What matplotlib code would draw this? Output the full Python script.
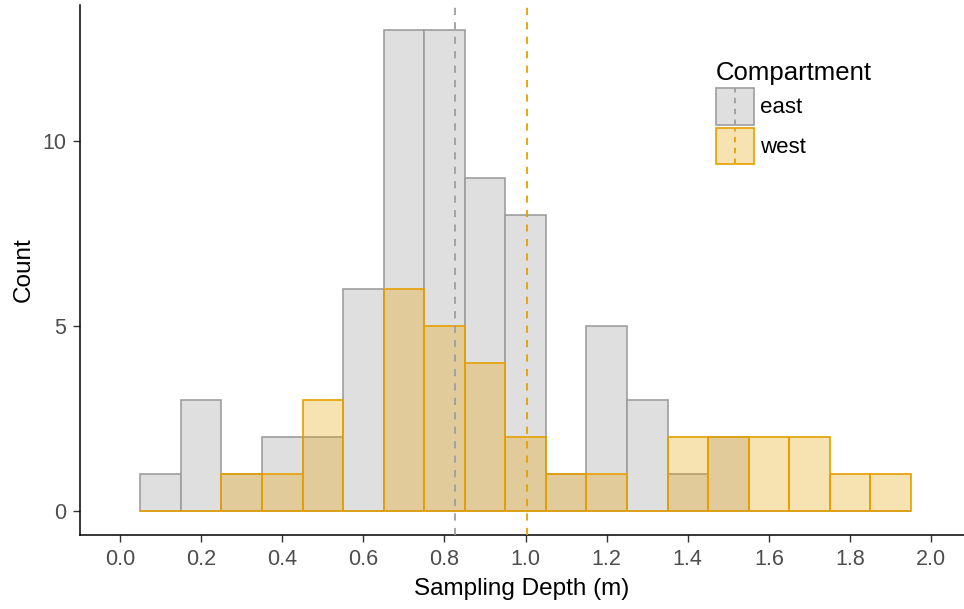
import matplotlib
matplotlib.use("Agg")

import numpy as np
import matplotlib.pyplot as plt
from matplotlib.patches import Rectangle
from matplotlib.lines import Line2D
from matplotlib.legend_handler import HandlerBase

# Histogram bins (centres, width 0.1) and counts per compartment
bin_centres = [0.1, 0.2, 0.3, 0.4, 0.5, 0.6, 0.7, 0.8, 0.9, 1.0,
               1.1, 1.2, 1.3, 1.4, 1.5, 1.6, 1.7, 1.8, 1.9]
east_counts = [1, 3, 1, 2, 2, 6, 13, 13, 9, 8, 1, 5, 3, 1, 2, 0, 0, 0, 0]
west_counts = [0, 0, 1, 1, 3, 0, 6, 5, 4, 2, 1, 1, 0, 2, 2, 2, 2, 1, 1]
BIN_W = 0.1

# Group means (dashed lines)
east_mean = 0.825
west_mean = 1.004

x_ticks = [0.0, 0.2, 0.4, 0.6, 0.8, 1.0, 1.2, 1.4, 1.6, 1.8, 2.0]
y_ticks = [0, 5, 10]

C_EAST_FILL = "#dfdfdf"
C_EAST_EDGE = "#9e9e9e"
C_WEST = "#E69F00"
C_TICK = "#4d4d4d"
FONT = "Liberation Sans"


class HistKeyHandler(HandlerBase):
    """Legend key: filled box with a dashed vertical line through the middle."""

    def __init__(self, face, face_alpha, edge, line_color):
        super().__init__()
        self.face = face
        self.face_alpha = face_alpha
        self.edge = edge
        self.line_color = line_color

    def create_artists(self, legend, orig_handle, xdescent, ydescent,
                       width, height, fontsize, trans):
        box = Rectangle((-xdescent, -ydescent), width, height,
                        facecolor=matplotlib.colors.to_rgba(self.face, self.face_alpha),
                        edgecolor=self.edge, linewidth=1.2, transform=trans)
        xm = -xdescent + width / 2
        ln = Line2D([xm, xm], [-ydescent, -ydescent + height],
                    color=self.line_color, linestyle=(0, (3, 3)),
                    linewidth=1.3, transform=trans)
        return [box, ln]


def main():
    plt.rcParams["font.family"] = [FONT, "DejaVu Sans"]

    fig = plt.figure(figsize=(9.64, 6.09), dpi=100)
    ax = fig.add_axes([80 / 964, 74 / 609, 1 - 80 / 964, 530 / 609])

    ax.bar(bin_centres, east_counts, width=BIN_W, color=C_EAST_FILL,
           edgecolor=C_EAST_EDGE, linewidth=1.2, zorder=2)
    ax.bar(bin_centres, west_counts, width=BIN_W,
           color=matplotlib.colors.to_rgba(C_WEST, 0.3),
           edgecolor=C_WEST, linewidth=1.2, zorder=3)

    ax.axvline(east_mean, color=C_EAST_EDGE, linestyle=(0, (4, 4)),
               linewidth=1.3, zorder=4)
    ax.axvline(west_mean, color=C_WEST, linestyle=(0, (4, 4)),
               linewidth=1.3, zorder=4)

    ax.set_xlim(-0.0986, 2.081)
    ax.set_ylim(-0.65, 13.68)
    ax.set_xticks(x_ticks)
    ax.set_xticklabels([f"{v:.1f}" for v in x_ticks])
    ax.set_yticks(y_ticks)

    for side in ("top", "right"):
        ax.spines[side].set_visible(False)
    for side in ("left", "bottom"):
        ax.spines[side].set_color("black")
        ax.spines[side].set_linewidth(1.1)
    ax.tick_params(length=5, width=1, color="#333333", labelcolor=C_TICK,
                   labelsize=15.5, pad=5)

    ax.set_xlabel("Sampling Depth (m)", fontsize=17.5, color="black", labelpad=6)
    ax.set_ylabel("Count", fontsize=17.5, color="black", labelpad=5)

    east_key = Rectangle((0, 0), 1, 1)
    west_key = Rectangle((0, 0), 1, 1)
    leg = fig.legend(
        [east_key, west_key], ["east", "west"],
        title="Compartment", title_fontsize=18.5, fontsize=16,
        loc="upper left", bbox_to_anchor=(705 / 964, 1 - 50 / 609),
        frameon=False, handlelength=1.71, handleheight=2.17,
        handletextpad=0.27, labelspacing=0.13, borderpad=0.0,
        handler_map={
            east_key: HistKeyHandler(C_EAST_FILL, 1.0, C_EAST_EDGE, C_EAST_EDGE),
            west_key: HistKeyHandler(C_WEST, 0.3, C_WEST, C_WEST),
        },
    )
    leg._legend_box.align = "left"

    fig.savefig("out.png", dpi=100, facecolor="white")
    plt.close(fig)


if __name__ == "__main__":
    main()
